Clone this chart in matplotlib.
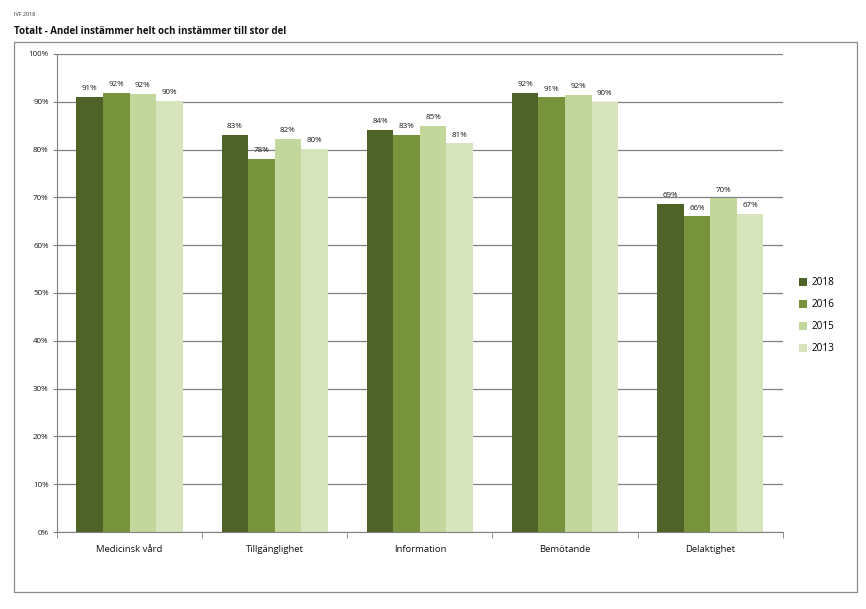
import matplotlib.pyplot as plt
import numpy as np
from matplotlib.patches import Rectangle

plt.rcParams["font.family"] = ["Open Sans", "DejaVu Sans"]

categories = ["Medicinsk vård", "Tillgänglighet", "Information", "Bemötande", "Delaktighet"]
years = ["2018", "2016", "2015", "2013"]
v2018 = [91.0, 83.0, 84.1, 91.8, 68.6]
v2016 = [91.8, 78.0, 83.0, 90.9, 66.0]
v2015 = [91.6, 82.3, 85.0, 91.5, 69.8]
v2013 = [90.2, 80.2, 81.3, 90.0, 66.6]
labels2018 = ["91%", "83%", "84%", "92%", "69%"]
labels2016 = ["92%", "78%", "83%", "91%", "66%"]
labels2015 = ["92%", "82%", "85%", "92%", "70%"]
labels2013 = ["90%", "80%", "81%", "90%", "67%"]

series = [v2018, v2016, v2015, v2013]
series_labels = [labels2018, labels2016, labels2015, labels2013]
colors = ["#4f6228", "#77933c", "#c3d69b", "#d7e4bc"]

fig = plt.figure(figsize=(8.66, 6.09), dpi=100)
ax = fig.add_axes([0.0658, 0.1264, 0.838, 0.785])

# outer frame
fig.patches.append(Rectangle((14 / 866, 1 - 592 / 609), (857 - 14) / 866, (592 - 42) / 609,
                             transform=fig.transFigure, fill=False, edgecolor="#8c8c8c", lw=0.9))
fig.text(14 / 866, 1 - 14 / 609, "IVF 2018", fontsize=4, color="#333333", va="center")
fig.text(14 / 866, 1 - 31 / 609, "Totalt - Andel instämmer helt och instämmer till stor del",
         fontsize=7, fontweight="bold", color="#111111", va="center")

x = np.arange(len(categories))
w = 0.183
for i, (vals, labs, c, yr) in enumerate(zip(series, series_labels, colors, years)):
    pos = x + (i - 1.5) * w
    ax.bar(pos, vals, width=w, color=c, label=yr, zorder=2)
    for px, v, lab in zip(pos, vals, labs):
        ax.text(px, v + 1.0, lab, ha="center", va="bottom", fontsize=5.8, color="#1a1a1a", zorder=3)

ax.set_xlim(-0.5, len(categories) - 0.5)
ax.set_ylim(0, 100)
ax.set_yticks(np.arange(0, 101, 10))
ax.set_yticklabels([f"{t}%" for t in range(0, 101, 10)], fontsize=5.8, color="#1a1a1a")
ax.yaxis.grid(True, color="#808080", lw=0.9, zorder=0)
ax.set_axisbelow(True)

ax.set_xticks(x)
ax.set_xticklabels(categories, fontsize=6.8, color="#111111")
ax.tick_params(axis="x", length=0, pad=9)
ax.set_xticks(np.arange(-0.5, len(categories), 1), minor=True)
ax.tick_params(axis="x", which="minor", length=4, color="#808080")
ax.tick_params(axis="y", length=3, color="#808080", pad=3)

for s in ["top", "right"]:
    ax.spines[s].set_visible(False)
ax.spines["left"].set_color("#808080")
ax.spines["bottom"].set_color("#808080")

ax.legend(loc="center left", bbox_to_anchor=(1.01, 0.452), frameon=False, fontsize=7.2,
          handlelength=0.8, handleheight=0.8, handletextpad=0.5, labelspacing=1.1)

fig.savefig("out.png", dpi=100)
